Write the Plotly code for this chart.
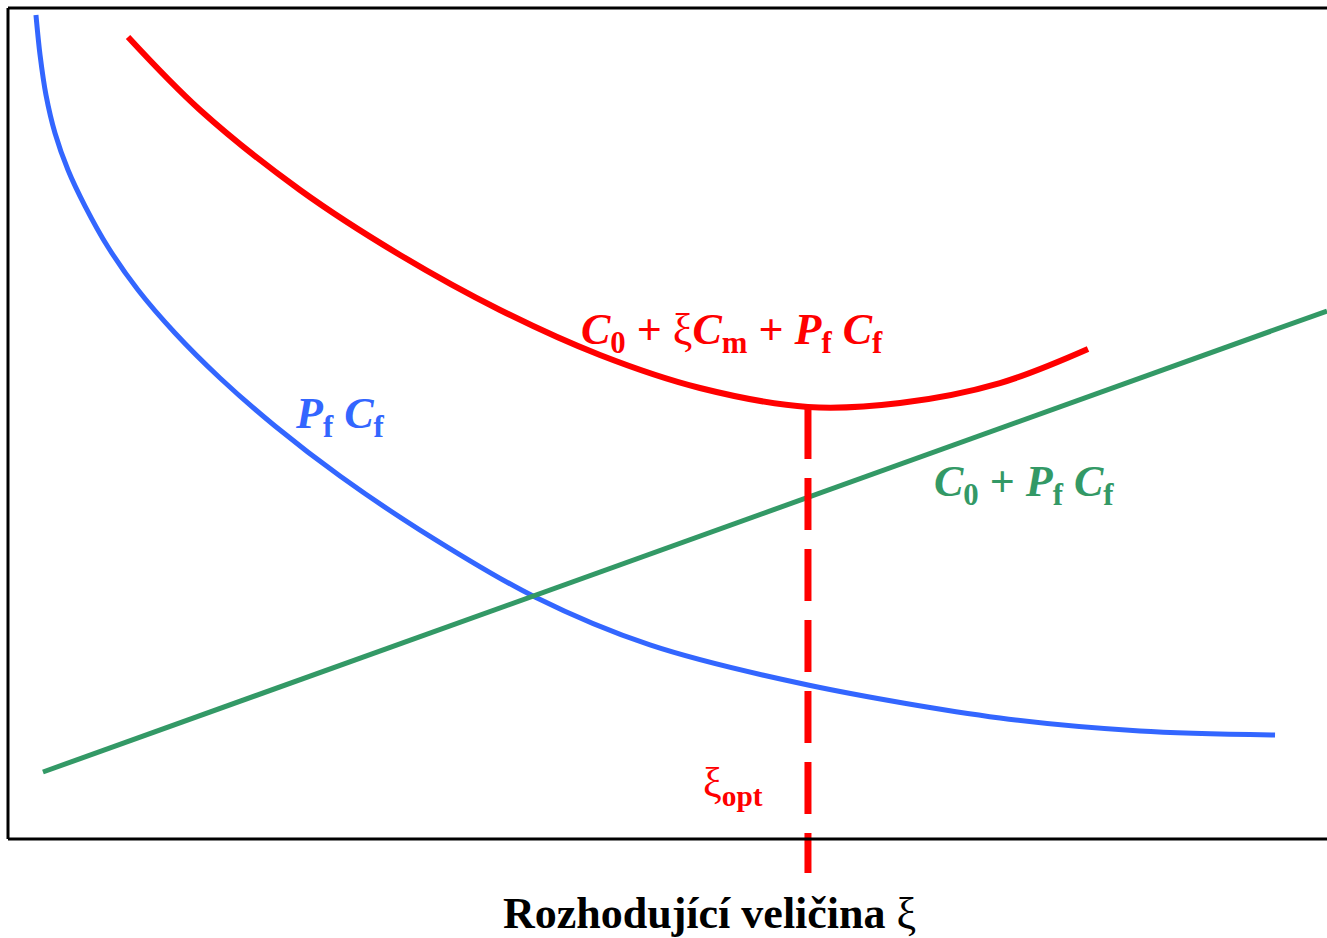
import plotly.graph_objects as go

# ---- data (abstract units: x 0..100 across plot, y 0..100 bottom->top) ----
blue_x = [2.12, 2.43, 2.88, 3.56, 4.55, 5.84, 7.58, 9.86, 12.66, 16.07, 20.24, 25.17,
          31.24, 39.95, 48.67, 60.65, 75.21, 85.82, 96.06]
blue_y = [99.16, 94.34, 89.53, 84.96, 80.51, 76.17, 71.24, 66.06, 60.89, 55.48, 49.70, 43.68,
          37.18, 29.12, 23.35, 18.53, 14.56, 13.00, 12.52]

red_x = [9.10, 14.56, 22.14, 29.72, 37.30, 44.88, 52.46, 60.65, 67.63, 75.21, 81.88]
red_y = [96.51, 87.73, 78.10, 70.28, 63.66, 58.24, 54.27, 51.99, 52.47, 54.87, 58.97]

green_x = [2.65, 100.0]
green_y = [8.06, 63.54]

xi_opt = 60.65
red_min = 51.99
dash_bottom = -4.1  # how far the dashed marker extends below the axis (y units)

X_RANGE = [0, 100]
Y_RANGE = [0, 100]

BLUE = "#3366FF"
RED = "#FF0000"
GREEN = "#339966"
FONT = "Liberation Serif"

fig = go.Figure()
fig.add_trace(go.Scatter(x=blue_x, y=blue_y, mode="lines",
                         line=dict(color=BLUE, width=5, shape="spline", smoothing=0.9),
                         hoverinfo="skip"))
fig.add_trace(go.Scatter(x=green_x, y=green_y, mode="lines",
                         line=dict(color=GREEN, width=5), hoverinfo="skip"))
fig.add_trace(go.Scatter(x=red_x, y=red_y, mode="lines",
                         line=dict(color=RED, width=6, shape="spline", smoothing=1.0),
                         hoverinfo="skip"))

def to_paper(v):
    return (v - Y_RANGE[0]) / (Y_RANGE[1] - Y_RANGE[0])

fig.add_shape(type="line", xref="x", yref="paper",
              x0=xi_opt, x1=xi_opt, y0=to_paper(red_min), y1=to_paper(dash_bottom),
              line=dict(color=RED, width=7, dash="52px,19px"), layer="above")

# frame: left, top, bottom
for (x0, y0, x1, y1) in [(0, 0, 0, 1), (0, 1, 1, 1), (0, 0, 1, 0)]:
    fig.add_shape(type="line", xref="paper", yref="paper", x0=x0, y0=y0, x1=x1, y1=y1,
                  line=dict(color="black", width=3), layer="above")

W, H = 1327, 938
ML, MT, MR, MB = 8, 8, 0, 99
PW, PH = W - ML - MR, H - MT - MB

def px(xp, yp):
    return (xp - ML) / PW, (H - MB - yp) / PH

def ann(text, xp, yp, color, size):
    x, y = px(xp, yp)
    fig.add_annotation(text=text, x=x, y=y, xref="paper", yref="paper",
                       xanchor="center", yanchor="middle", showarrow=False,
                       font=dict(family=FONT, size=size, color=color))

ann("<b><i>C</i><sub>0</sub> + </b>ξ<b><i>C</i><sub>m</sub> + <i>P</i><sub>f</sub> <i>C</i><sub>f</sub></b>",
    732, 332, RED, 44)
ann("<b><i>P</i><sub>f</sub> <i>C</i><sub>f</sub></b>", 340, 417, BLUE, 44)
ann("<b><i>C</i><sub>0</sub> + <i>P</i><sub>f</sub> <i>C</i><sub>f</sub></b>", 1024, 485, GREEN, 44)
ann("ξ<sub><b>opt</b></sub>", 733, 786, RED, 42)
ann("<b>Rozhodující veličina</b> ξ", 709, 913, "black", 44)

fig.update_layout(
    width=W, height=H,
    margin=dict(l=ML, r=MR, t=MT, b=MB, pad=0),
    paper_bgcolor="white", plot_bgcolor="white",
    showlegend=False,
    xaxis=dict(range=X_RANGE, showgrid=False, zeroline=False, showticklabels=False,
               ticks="", showline=False, fixedrange=True),
    yaxis=dict(range=Y_RANGE, showgrid=False, zeroline=False, showticklabels=False,
               ticks="", showline=False, fixedrange=True),
)

fig.write_html("out.html")
